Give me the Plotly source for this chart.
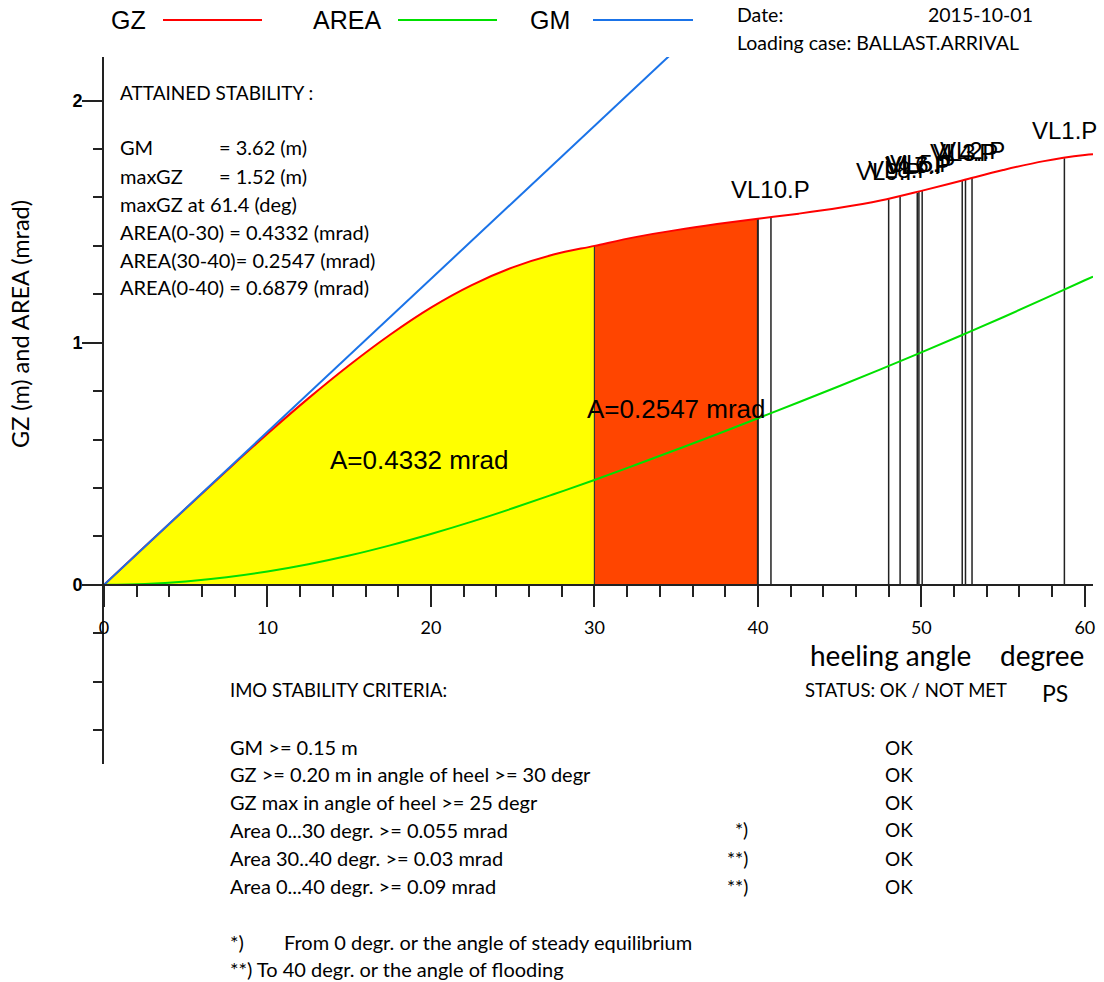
import plotly.graph_objects as go

# ---------------- data ----------------
angle = [0, 2.5, 5, 7.5, 10, 12.5, 15, 17.5, 20, 22.5, 25, 27.5, 30,
         32.5, 35, 37.5, 40, 42.5, 45, 47.5, 50, 52.5, 55, 57.5, 60, 60.5]
gz = [0, 0.158, 0.315, 0.471, 0.624, 0.770, 0.907, 1.033, 1.145, 1.238, 1.311, 1.364, 1.40,
      1.436, 1.465, 1.49, 1.512, 1.533, 1.557, 1.587, 1.627, 1.67, 1.713, 1.75, 1.775, 1.778]
area = [0, 0.0035, 0.014, 0.031, 0.055, 0.085, 0.121, 0.163, 0.210, 0.261, 0.316, 0.374, 0.433,
        0.495, 0.558, 0.622, 0.688, 0.754, 0.821, 0.890, 0.960, 1.032, 1.105, 1.181, 1.258, 1.273]
gm_angle = [0, 57.3]
gm_value = [0, 3.62]

area1_range = [0, 30]
area2_range = [30, 40]
area_labels = ["A=0.4332 mrad", "A=0.2547 mrad"]
area_label_x = [19.3, 35.05]
area_label_y = [0.514, 0.728]

vl_names = ["VL10.P", "VL9.P", "VL8.P", "VL7.P", "VL6.P", "VL5.P", "VL4.P", "VL3.P", "VL2.P", "VL1.P"]
vl_angle = [40.8, 48.0, 48.7, 49.75, 49.85, 50.05, 52.5, 52.7, 53.1, 58.75]
vl_gz = [1.519, 1.592, 1.602, 1.619, 1.622, 1.627, 1.670, 1.673, 1.680, 1.762]

x_ticks = [0, 10, 20, 30, 40, 50, 60]
y_ticks = [0, 1, 2]

legend_names = ["GZ", "AREA", "GM"]
legend_colors = ["#ff0000", "#00e000", "#1a73e8"]

attained_title = "ATTAINED STABILITY :"
attained_left = ["GM", "maxGZ"]
attained_right = ["= 3.62 (m)", "= 1.52 (m)"]
attained_rest = ["maxGZ at 61.4 (deg)", "AREA(0-30) = 0.4332 (mrad)",
                 "AREA(30-40)= 0.2547 (mrad)", "AREA(0-40) = 0.6879 (mrad)"]

criteria = ["GM >= 0.15 m", "GZ >= 0.20 m in angle of heel >= 30 degr",
            "GZ max in angle of heel >= 25 degr", "Area 0...30 degr. >= 0.055 mrad",
            "Area 30..40 degr. >= 0.03 mrad", "Area 0...40 degr. >= 0.09 mrad"]
criteria_notes = ["", "", "", "*)", "**)", "**)"]
criteria_status = ["OK", "OK", "OK", "OK", "OK", "OK"]

# ---------------- layout helpers ----------------
W, H = 1104, 982
L, R, T, B = 104, 11, 57, 218
PW, PH = W - L - R, H - T - B
XR = [0, 60.5]
YR = [-0.74, 2.18]


def px(x):
    return (x - L) / PW


def py(y):
    return (H - B - y) / PH


TXT = "Lato"
ARIAL = "Liberation Sans"

fig = go.Figure()


def sub(lo, hi):
    xs = [a for a in angle if lo <= a <= hi]
    ys = [g for a, g in zip(angle, gz) if lo <= a <= hi]
    return xs, ys


xs1, ys1 = sub(*area1_range)
fig.add_trace(go.Scatter(x=xs1, y=ys1, mode="lines", line=dict(width=0, shape="spline"),
                         fill="tozeroy", fillcolor="#ffff00", hoverinfo="skip"))
xs2, ys2 = sub(*area2_range)
fig.add_trace(go.Scatter(x=xs2, y=ys2, mode="lines", line=dict(width=0, shape="spline"),
                         fill="tozeroy", fillcolor="#ff4500", hoverinfo="skip"))

# boundaries at 30 and 40
b30 = gz[angle.index(30)]
b40 = gz[angle.index(40)]
fig.add_trace(go.Scatter(x=[30, 30], y=[0, b30], mode="lines",
                         line=dict(color="#333333", width=1.2), hoverinfo="skip"))
fig.add_trace(go.Scatter(x=[40, 40], y=[0, b40], mode="lines",
                         line=dict(color="#222222", width=2), hoverinfo="skip"))

# VL lines
vx, vy = [], []
for a, g in zip(vl_angle, vl_gz):
    vx += [a, a, None]
    vy += [0, g, None]
fig.add_trace(go.Scatter(x=vx, y=vy, mode="lines", line=dict(color="#222222", width=1.5),
                         hoverinfo="skip"))

fig.add_trace(go.Scatter(x=angle, y=gz, mode="lines", name="GZ",
                         line=dict(color=legend_colors[0], width=2, shape="spline")))
fig.add_trace(go.Scatter(x=angle, y=area, mode="lines", name="AREA",
                         line=dict(color=legend_colors[1], width=2, shape="spline")))
fig.add_trace(go.Scatter(x=gm_angle, y=gm_value, mode="lines", name="GM",
                         line=dict(color=legend_colors[2], width=2)))

ann = []
# VL labels
for n, a, g in zip(vl_names, vl_angle, vl_gz):
    ann.append(dict(x=a, y=g, xref="x", yref="y", text=n, showarrow=False,
                    yanchor="bottom", yshift=12, font=dict(family=ARIAL, size=24, color="black")))
# area labels
for t_, x, y in zip(area_labels, area_label_x, area_label_y):
    ann.append(dict(x=x, y=y, xref="x", yref="y", text=t_, showarrow=False,
                    font=dict(family=ARIAL, size=26, color="black")))

# legend
leg_text_x = [109, 311, 528]
leg_line = [(163, 262), (398, 497), (593, 693)]
shapes = []
for name, col, tx, (l0, l1) in zip(legend_names, legend_colors, leg_text_x, leg_line):
    ann.append(dict(x=px(tx), y=py(20), xref="paper", yref="paper", text=name, showarrow=False,
                    xanchor="left", yanchor="middle", font=dict(family=ARIAL, size=25, color="black")))
    shapes.append(dict(type="line", xref="paper", yref="paper", x0=px(l0), x1=px(l1),
                       y0=py(20), y1=py(20), line=dict(color=col, width=2)))


def t(x, y, s, size=18, anchor="left", fam=TXT):
    ann.append(dict(x=px(x), y=py(y), xref="paper", yref="paper", text=s, showarrow=False,
                    xanchor=anchor, yanchor="middle", font=dict(family=fam, size=size, color="black")))


t(735, 15, "Date:", 19.5)
t(1035, 15, "2015-10-01", 19.5, "right")
t(735, 43, "Loading case: BALLAST.ARRIVAL", 19.5)

t(118, 92, attained_title, 19)
ys_attained = [147, 176]
for a, b, y in zip(attained_left, attained_right, ys_attained):
    t(118, y, a, 20)
    t(217, y, b, 20)
for s, y in zip(attained_rest, [204, 232, 260, 287]):
    t(118, y, s, 20)

t(808, 655, "heeling angle", 28)
t(998, 655, "degree", 28)
t(228, 690, "IMO STABILITY CRITERIA:", 18.5)
t(803, 690, "STATUS: OK / NOT MET", 18.5)
t(1040, 693, "PS", 23)

row_y = [747, 774, 802, 830, 858, 886]
for c, n, s, y in zip(criteria, criteria_notes, criteria_status, row_y):
    t(228, y, c, 20)
    if n:
        t(750, y, n, 19, "right")
    t(899, y, s, 19, "center")

t(228, 942, "*)", 20)
t(282, 942, "From 0 degr. or the angle of steady equilibrium", 20)
t(228, 969, "**) To 40 degr. or the angle of flooding", 20)

# y title
ann.append(dict(x=px(20), y=py(324), xref="paper", yref="paper", text="GZ (m) and AREA (mrad)",
                showarrow=False, textangle=-90, xanchor="center", yanchor="middle",
                font=dict(family=TXT, size=23.5, color="black")))

axis_col = "#222222"
fig.update_layout(
    width=W, height=H, paper_bgcolor="white", plot_bgcolor="white",
    margin=dict(l=L, r=R, t=T, b=B, autoexpand=False),
    showlegend=False,
    annotations=ann, shapes=shapes,
    xaxis=dict(range=XR, tickvals=x_ticks, ticks="outside", ticklen=21, tickwidth=1.5,
               tickcolor=axis_col, showline=True, linecolor=axis_col, linewidth=2,
               anchor="free", position=(0 - YR[0]) / (YR[1] - YR[0]),
               showgrid=False, zeroline=False, ticklabelstandoff=6,
               tickfont=dict(family=TXT, size=18, color="black"),
               minor=dict(dtick=2, tick0=0, ticks="outside", ticklen=11, tickwidth=1.5,
                          tickcolor=axis_col, showgrid=False)),
    yaxis=dict(range=YR, tickvals=y_ticks, ticks="outside", ticklen=20, tickwidth=1.5,
               tickcolor=axis_col, showline=True, linecolor=axis_col, linewidth=2,
               showgrid=False, zeroline=False, ticklabelstandoff=-4,
               tickfont=dict(family=ARIAL, size=18, color="black", weight="bold"),
               minor=dict(dtick=0.2, tick0=0, ticks="outside", ticklen=9, tickwidth=1.5,
                          tickcolor=axis_col, showgrid=False)),
)

fig.write_html("out.html", config={"displayModeBar": False},
               post_script="document.body.style.margin='0px';"
                           "document.body.style.overflow='hidden';")
